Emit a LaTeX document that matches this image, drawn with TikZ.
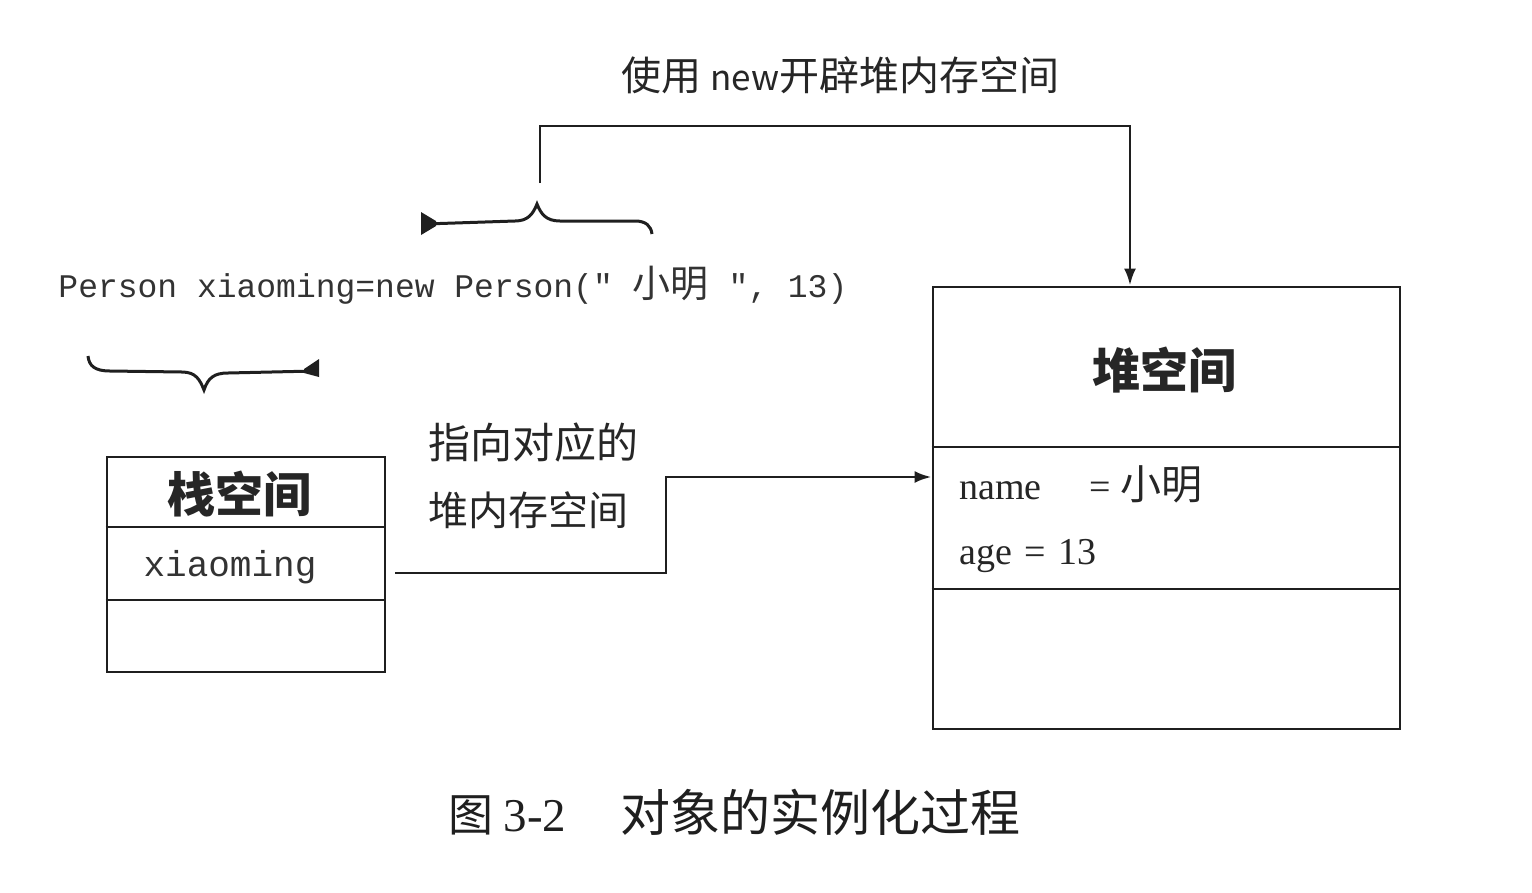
\documentclass[tikz,border=0pt]{standalone}
\usepackage{fontspec}
\setmainfont{Liberation Serif}
\setsansfont{Liberation Sans}
\setmonofont{Liberation Mono}
\newfontfamily\cjk{Noto Sans CJK SC}
\usetikzlibrary{arrows.meta}
\newcommand{\fsz}[1]{\fontsize{#1}{#1}\selectfont}
\begin{document}
\begin{tikzpicture}[x=1pt,y=-1pt,line width=2.9pt,
  ink/.style={draw=black!88},
  box/.style={ink,rectangle,inner sep=0pt},
  lbl/.style={inner sep=0pt,anchor=west,text=black!85},
  arr/.style={ink,-{Latex[length=17pt,width=12pt]}},
  bracefill/.style={fill=black!88,draw=none}]
\useasboundingbox (0,0) rectangle (1532,892);
% title
\node[lbl] (title) at (620,75) {\cjk\fsz{40}使用 \fsz{35}new\fsz{40}开辟堆内存空间};
% code line
\node[lbl,text=black!80] (code) at (57,285) {\ttfamily\fsz{33}Person xiaoming=new Person(" {\cjk\fsz{38}小明} ", 13)};
% heap box
\node[box,minimum width=467pt,minimum height=442pt] (heap) at (1166.5,508) {};
\draw[ink] (heap.west |- 0,447) -- (heap.east |- 0,447);
\draw[ink] (heap.west |- 0,589) -- (heap.east |- 0,589);
\node[inner sep=0pt,text=black!85] (heaptitle) at (1164,370) {\cjk\bfseries\fsz{48}堆空间};
\node[lbl] (name) at (958,484) {\fsz{38}name \quad= {\cjk\fsz{41}小明}};
\node[lbl] (age) at (958,556) {\fsz{38}age\,\,=\,\,13};
% stack box
\node[box,minimum width=278pt,minimum height=215pt] (stack) at (246,564.5) {};
\draw[ink] (stack.west |- 0,527) -- (stack.east |- 0,527);
\draw[ink] (stack.west |- 0,600) -- (stack.east |- 0,600);
\node[inner sep=0pt,text=black!85] (stacktitle) at (239,494) {\cjk\bfseries\fsz{48}栈空间};
\node[inner sep=0pt,text=black!80] (xm) at (230,567) {\ttfamily\fsz{36}xiaoming};
% pointer label
\node[lbl] (p1) at (427,443) {\cjk\fsz{42}指向对应的};
\node[lbl] (p2) at (427,510) {\cjk\fsz{40}堆内存空间};
% connectors
\coordinate (cs) at (395,573);
\coordinate (bend) at (666,573);
\draw[arr] (cs) -- (bend) -- (bend |- 0,477) -- (heap.west |- 0,477);
\coordinate (bt) at (540,183);
\coordinate (ht) at (1130,0);
\draw[arr] (bt) -- (540,126) -- (ht |- 0,126) -- (ht |- heap.north);
% upper brace
\coordinate (ub) at (537,204);
\draw[ink,line width=3pt] (425,224) -- (515,221) .. controls (528,221) and (533,214) .. (ub)
  .. controls (541,214) and (546,221) .. (560,221) -- (635,221) .. controls (646,221) and (651,226) .. (652,234);
\fill[bracefill] (421,212) -- (436,221) -- (436,226) -- (421,235) -- cycle;
% lower brace
\coordinate (lb) at (204,390);
\draw[ink,line width=3pt] (88,356) .. controls (89,366) and (95,371) .. (110,371) -- (182,372)
  .. controls (196,372) and (200,380) .. (lb) .. controls (208,378) and (214,373) .. (228,373) -- (315,371);
\fill[bracefill] (319,359) -- (319,377) -- (304,373) -- (304,369) -- cycle;
% caption
\node[lbl,text=black!88] (cap) at (447,812) {\cjk\fsz{45}图 \rmfamily\fsz{47}3-2\hspace{54pt}\cjk\fsz{50}对象的实例化过程};
\end{tikzpicture}
\end{document}
